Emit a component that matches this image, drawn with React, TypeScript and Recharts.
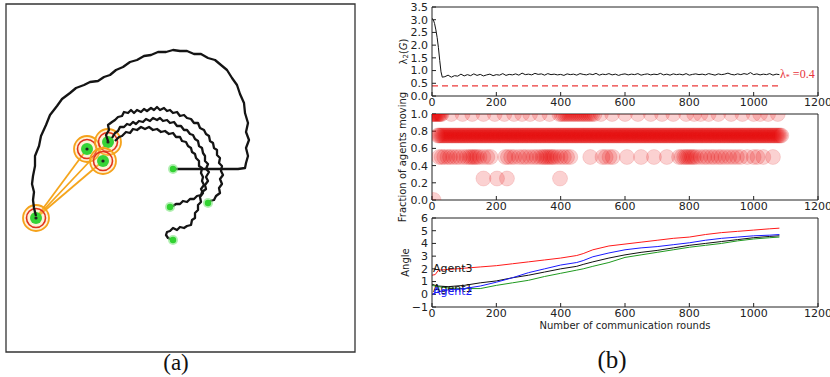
import React from "react";
import { ComposedChart, Scatter, Line, XAxis, YAxis, ReferenceArea, ReferenceDot } from "recharts";

// ---------- panel (a): trajectories, in picture coordinates of the box ----------
const OUTER_PATH = [
  [36, 216], [34, 208], [33, 200], [34, 192], [32, 184], [33, 176], [35, 166], [35, 156], [39, 146], [41, 136],
  [46, 125], [50, 115], [57, 106], [62, 99], [70, 93], [76, 88], [84, 85], [90, 82], [98, 81], [104, 77],
  [110, 75], [116, 70], [123, 67], [130, 62], [137, 60], [144, 56], [151, 55], [158, 52], [166, 52], [173, 50],
  [180, 51], [187, 51], [194, 54], [201, 54], [208, 58], [215, 60], [221, 65], [227, 70], [232, 78], [237, 85],
  [240, 94], [244, 103], [245, 113], [248, 123], [246, 132], [249, 140], [246, 148], [248, 156], [246, 163],
  [245, 168], [238, 169], [173, 169],
];
const PATH_A = [
  [108, 141], [106, 135], [109, 130], [108, 125], [112, 122], [115, 120], [118, 117], [122, 116], [124, 112],
  [128, 113], [131, 110], [134, 113], [137, 110], [141, 112], [144, 109], [147, 111], [151, 108], [154, 110],
  [157, 107], [160, 110], [164, 108], [167, 111], [170, 110], [173, 113], [177, 112], [180, 116], [184, 115],
  [187, 118], [191, 119], [194, 123], [198, 123], [200, 128], [204, 130], [206, 134], [209, 136], [210, 141],
  [213, 143], [214, 148], [217, 150], [217, 155], [220, 158], [219, 163], [222, 166], [221, 171], [223, 175],
  [220, 179], [222, 184], [219, 188], [220, 193], [216, 196], [214, 200], [210, 201], [208, 203],
];
const PATH_B = [
  [112, 138], [115, 133], [118, 131], [120, 127], [124, 127], [127, 124], [130, 125], [133, 122], [136, 124],
  [139, 121], [143, 122], [146, 119], [150, 121], [153, 118], [157, 120], [160, 118], [163, 121], [167, 120],
  [170, 123], [174, 122], [177, 126], [181, 126], [184, 130], [187, 130], [190, 134], [193, 135], [195, 139],
  [198, 141], [199, 146], [202, 148], [203, 153], [205, 156], [205, 161], [208, 164], [206, 169], [209, 172],
  [206, 177], [208, 181], [205, 185], [206, 189], [202, 192], [201, 195], [197, 196], [194, 199], [190, 199],
  [187, 202], [183, 201], [180, 204], [176, 204], [173, 206], [170, 207],
];
const PATH_C = [
  [115, 141], [119, 137], [122, 136], [126, 132], [130, 133], [133, 129], [137, 130], [141, 127], [145, 129],
  [149, 127], [153, 130], [157, 129], [161, 132], [165, 131], [169, 134], [173, 133], [176, 137], [180, 137],
  [182, 141], [186, 142], [188, 146], [191, 148], [192, 152], [195, 154], [196, 158], [199, 161], [199, 166],
  [202, 168], [201, 173], [203, 177], [202, 181], [204, 185], [201, 189], [203, 193], [200, 197], [201, 202],
  [198, 205], [198, 210], [195, 213], [195, 218], [192, 220], [191, 225], [187, 226], [184, 228], [180, 227],
  [177, 230], [173, 228], [170, 231], [167, 232], [166, 235], [168, 238], [173, 240],
];
const END_AGENTS = [[173, 169], [208, 203], [170, 207], [173, 240]];
const LEADERS = [[87, 149], [108, 142], [103, 161], [36, 218]];
const LONE = [36, 218];

// ---------- panel (b) ----------
const X_TICKS = [0, 200, 400, 600, 800, 1000, 1200];
const LAMBDA_TICKS = [0, 0.5, 1, 1.5, 2, 2.5, 3, 3.5];
const FRACTION_TICKS = [0, 0.2, 0.4, 0.6, 0.8, 1];
const ANGLE_TICKS = [-1, 0, 1, 2, 3, 4, 5, 6];

const LAMBDA_START_X = [0, 4, 8, 12, 16, 20, 24, 28, 32];
const LAMBDA_START = [3.05, 3.0, 2.85, 2.6, 2.3, 1.9, 1.4, 0.95, 0.74];
// every 10 rounds from round 40
const LAMBDA_TAIL = [
  0.76, 0.82, 0.74, 0.8, 0.78, 0.86, 0.79, 0.84, 0.8, 0.87,
  0.81, 0.85, 0.79, 0.83, 0.86, 0.8, 0.84, 0.82, 0.88, 0.81,
  0.85, 0.83, 0.87, 0.82, 0.9, 0.84, 0.86, 0.83, 0.89, 0.85,
  0.87, 0.82, 0.88, 0.84, 0.86, 0.83, 0.85, 0.81, 0.87, 0.84,
  0.86, 0.82, 0.88, 0.85, 0.83, 0.87, 0.84, 0.89, 0.82, 0.86,
  0.84, 0.88, 0.83, 0.86, 0.81, 0.85, 0.87, 0.83, 0.86, 0.84,
  0.88, 0.82, 0.85, 0.87, 0.83, 0.86, 0.84, 0.89, 0.83, 0.86,
  0.82, 0.87, 0.84, 0.86, 0.83, 0.88, 0.82, 0.85, 0.87, 0.84,
  0.86, 0.83, 0.88, 0.85, 0.82, 0.87, 0.84, 0.86, 0.9, 0.85,
  0.83, 0.87, 0.84, 0.88, 0.85, 0.92, 0.84, 0.87, 0.83, 0.86,
  0.84, 0.88, 0.82, 0.86, 0.84,
];
const LAMBDA_STAR = 0.4;
const LAMBDA_STAR_END = 1085;

const MOVING_100 = [0, 3, 6, 9, 12, 15, 18, 21, 24, 27, 30, 60, 95, 125, 160, 195, 225, 255, 280, 305, 335, 365,
  396, 402, 408, 414, 420, 426, 432, 438, 444, 450, 456, 462, 468, 474, 480, 486, 492, 498, 505, 525, 560, 600,
  640, 680, 715, 750, 790, 815, 835, 860, 890, 930, 965, 1000, 1020, 1045, 1075];
const MOVING_75 = [18, 22, 26, 30, 34, 38, 42, 46, 50, 54, 58, 62, 66, 70, 74, 78, 82, 86, 90, 94, 98, 102, 106,
  110, 114, 118, 122, 126, 130, 134, 138, 142, 146, 150, 154, 158, 162, 166, 170, 174, 178, 182, 186, 190, 194,
  198, 202, 206, 210, 214, 218, 222, 226, 230, 234, 238, 242, 246, 250, 254, 258, 262, 266, 270, 274, 278, 282,
  286, 290, 294, 298, 302, 306, 310, 314, 318, 322, 326, 330, 334, 338, 342, 346, 350, 354, 358, 362, 366, 370,
  374, 378, 382, 386, 390, 394, 398, 402, 406, 410, 414, 418, 422, 426, 430, 434, 438, 442, 446, 450, 454, 458,
  462, 466, 470, 474, 478, 482, 486, 490, 494, 498, 502, 506, 510, 514, 518, 522, 526, 530, 534, 538, 542, 546,
  550, 554, 558, 562, 566, 570, 574, 578, 582, 586, 590, 594, 598, 602, 606, 610, 614, 618, 622, 626, 630, 634,
  638, 642, 646, 650, 654, 658, 662, 666, 670, 674, 678, 682, 686, 690, 694, 698, 702, 706, 710, 714, 718, 722,
  726, 730, 734, 738, 742, 746, 750, 754, 758, 762, 766, 770, 774, 778, 782, 786, 790, 794, 798, 802, 806, 810,
  814, 818, 822, 826, 830, 834, 838, 842, 846, 850, 854, 858, 862, 866, 870, 874, 878, 882, 886, 890, 894, 898,
  902, 906, 910, 914, 918, 922, 926, 930, 934, 938, 942, 946, 950, 954, 958, 962, 966, 970, 974, 978, 982, 986,
  990, 994, 998, 1002, 1006, 1010, 1014, 1018, 1022, 1026, 1030, 1034, 1038, 1042, 1046, 1050, 1054, 1058, 1062,
  1066, 1070, 1074, 1078, 1082, 1086];
const MOVING_50 = [22, 30, 38, 48, 56, 66, 76, 86, 98, 108, 116, 122, 128, 134, 140, 148, 160, 172, 182, 228, 236,
  246, 256, 270, 282, 292, 304, 316, 326, 336, 344, 350, 356, 362, 368, 374, 380, 390, 400, 410, 420, 430, 492,
  530, 540, 552, 562, 606, 650, 690, 730, 768, 776, 784, 790, 796, 802, 808, 814, 822, 834, 846, 856, 868, 878,
  890, 900, 912, 924, 936, 948, 960, 980, 1000, 1012, 1030, 1060];
const MOVING_25 = [160, 202, 233, 398];
const MOVING_0 = [5];

const ANGLE_ROUNDS = [0, 10, 20, 50, 100, 150, 200, 250, 300, 350, 400, 450, 470, 500, 550, 600, 650, 700, 750, 800, 850, 900, 950, 1000, 1050, 1080];
const ANGLE_RED = [1.5, 1.55, 1.9, 1.95, 2.05, 2.15, 2.25, 2.4, 2.55, 2.7, 2.85, 3.05, 3.2, 3.5, 3.8, 3.95, 4.1, 4.25, 4.4, 4.5, 4.7, 4.85, 4.95, 5.05, 5.15, 5.2];
const ANGLE_BLUE = [0.0, 0.1, 0.2, 0.35, 0.45, 0.65, 0.95, 1.3, 1.7, 2.0, 2.3, 2.5, 2.65, 2.95, 3.25, 3.5, 3.65, 3.75, 3.9, 4.05, 4.25, 4.4, 4.5, 4.6, 4.65, 4.7];
const ANGLE_BLACK = [0.8, 0.7, 0.65, 0.6, 0.7, 0.9, 1.05, 1.3, 1.5, 1.75, 2.0, 2.2, 2.35, 2.55, 2.85, 3.1, 3.3, 3.45, 3.65, 3.85, 4.0, 4.15, 4.3, 4.45, 4.55, 4.6];
const ANGLE_GREEN = [0.7, 0.65, 0.6, 0.5, 0.45, 0.45, 0.7, 0.9, 1.1, 1.4, 1.65, 1.9, 2.0, 2.2, 2.5, 2.9, 3.1, 3.3, 3.5, 3.7, 3.85, 4.0, 4.2, 4.35, 4.45, 4.5];

const FONT = "'DejaVu Sans', sans-serif";
const INK = "#222";
const tickStyle = { fill: INK, fontSize: 11, fontFamily: FONT };

const pts = (arr: number[][]) => arr.map(([x, y]) => ({ x, y }));
const row = (xs: number[], y: number) => xs.map((x) => ({ x, y }));

const lambdaData = [
  ...LAMBDA_START_X.map((x, i) => ({ x, y: LAMBDA_START[i] })),
  ...LAMBDA_TAIL.map((y, i) => ({ x: 40 + i * 10, y })),
];
const starData = [{ x: 0, y: LAMBDA_STAR }, { x: LAMBDA_STAR_END, y: LAMBDA_STAR }];
const angleRows = ANGLE_ROUNDS.map((x, i) => ({
  x, red: ANGLE_RED[i], blue: ANGLE_BLUE[i], black: ANGLE_BLACK[i], green: ANGLE_GREEN[i],
}));

function YTitle({ viewBox, dx, txt }: any) {
  const cx = viewBox.x + dx;
  const cy = viewBox.y + viewBox.height / 2;
  return (
    <text x={cx} y={cy} transform={`rotate(-90 ${cx} ${cy})`} textAnchor="middle" dominantBaseline="central"
      fontSize={10} fontFamily={FONT} fill={INK}>{txt}</text>
  );
}

function XTitle({ viewBox, dy, txt }: any) {
  return (
    <text x={viewBox.x + viewBox.width / 2} y={viewBox.y + dy} textAnchor="middle" dominantBaseline="central"
      fontSize={10} fontFamily={FONT} fill={INK}>{txt}</text>
  );
}

function Tag({ viewBox, txt, color }: any) {
  return (
    <text x={viewBox.x + 1} y={viewBox.y} dominantBaseline="central" fontSize={11} fontFamily={FONT} fill={color}>{txt}</text>
  );
}

function StarTag({ viewBox }: any) {
  return (
    <text x={viewBox.x} y={viewBox.y} dominantBaseline="central" fontSize={12} fontFamily="'Liberation Serif', serif" fill="#e8343c">
      λ<tspan fontSize={8} dy={3}>*</tspan><tspan dy={-3}> =0.4</tspan>
    </text>
  );
}

const Bubble = (p: any) => (
  <circle cx={p.cx} cy={p.cy} r={7.5} fill="#e80000" fillOpacity={0.18} stroke="#d00000" strokeOpacity={0.12} strokeWidth={1} />
);
const NoDot = () => <g />;

const EndDot = (p: any) => (
  <g>
    <circle cx={p.cx} cy={p.cy} r={5} fill="#7ee57e" fillOpacity={0.6} />
    <circle cx={p.cx} cy={p.cy} r={3.2} fill="#31d231" />
  </g>
);

const Leader = (p: any) => (
  <g>
    <circle cx={p.cx} cy={p.cy} r={13} fill="#ffd27a" fillOpacity={0.3} stroke="#f5a21b" strokeWidth={1.8} />
    <circle cx={p.cx} cy={p.cy} r={9.5} fill="none" stroke="#e0321c" strokeWidth={1.6} />
    <circle cx={p.cx} cy={p.cy} r={6} fill="#37d337" />
    <circle cx={p.cx} cy={p.cy} r={1.6} fill="#222" />
  </g>
);

function frameAxes(yTicks: number[], yFmt: (v: number) => string, title: any, xTitle?: any, bottomH = 16) {
  const ax = { stroke: INK, strokeWidth: 1 };
  const yDom = [yTicks[0], yTicks[yTicks.length - 1]];
  return [
    <XAxis key="xb" type="number" dataKey="x" domain={[0, 1200]} ticks={X_TICKS} interval={0} allowDataOverflow
      tickSize={-4} tickMargin={6} tick={tickStyle} axisLine={ax} tickLine={ax} height={bottomH} label={xTitle} />,
    <XAxis key="xt" xAxisId="t" orientation="top" type="number" dataKey="x" domain={[0, 1200]} ticks={X_TICKS}
      interval={0} allowDataOverflow tickSize={-4} tick={false} axisLine={ax} tickLine={ax} height={2} />,
    <YAxis key="yl" type="number" dataKey="y" domain={yDom} ticks={yTicks} interval={0}
      allowDataOverflow tickSize={-4} tickMargin={8} tick={tickStyle} tickFormatter={yFmt} axisLine={ax}
      tickLine={ax} width={40} label={title} />,
    <YAxis key="yr" yAxisId="r" orientation="right" type="number" domain={yDom} ticks={yTicks} interval={0}
      allowDataOverflow tickSize={-4} tick={false} axisLine={ax} tickLine={ax} width={2} />,
  ];
}

export default function App() {
  return (
    <div style={{ position: "absolute", left: 0, top: 0, width: 830, height: 377, background: "#fff", overflow: "hidden" }}>
      <style>{`.recharts-surface { overflow: visible; }`}</style>
      {/* (a) */}
      <div style={{ position: "absolute", left: 0, top: 0 }}>
        <ComposedChart width={360} height={356} margin={{ top: 4, left: 6, right: 5, bottom: 4 }}>
          <XAxis type="number" dataKey="x" domain={[6, 355]} hide allowDataOverflow />
          <YAxis type="number" dataKey="y" domain={[4, 352]} reversed hide allowDataOverflow />
          <ReferenceArea x1={6} x2={355} y1={4} y2={352} fill="none" stroke="#333" strokeWidth={1.3} ifOverflow="visible" />
          {LEADERS.slice(0, 3).map((p, i) => (
            <Scatter key={"l" + i} data={pts([LONE, p])} shape={NoDot} isAnimationActive={false}
              line={{ stroke: "#f5a51c", strokeWidth: 1.8 }} />
          ))}
          <Scatter data={pts(LEADERS)} shape={Leader} isAnimationActive={false} />
          {[OUTER_PATH, PATH_A, PATH_B, PATH_C].map((p, i) => (
            <Scatter key={"p" + i} data={pts(p)} shape={NoDot} isAnimationActive={false}
              line={{ stroke: "#141414", strokeWidth: 2.3, strokeLinejoin: "round" }} />
          ))}
          <Scatter data={pts(END_AGENTS)} shape={EndDot} isAnimationActive={false} />
        </ComposedChart>
      </div>
      <div style={{ position: "absolute", left: 0, width: 352, top: 349, textAlign: "center", fontFamily: "'Liberation Serif', serif", fontSize: 23, lineHeight: "28px", color: "#111" }}>(a)</div>

      {/* (b) top: lambda_2 */}
      <div style={{ position: "absolute", left: 380, top: 0 }}>
        <ComposedChart width={450} height={112} margin={{ top: 5, left: 12, right: 10, bottom: 0 }}>
          {frameAxes(LAMBDA_TICKS, (v) => v.toFixed(1), <YTitle dx={11} txt={<>
            λ<tspan fontSize={7} dy={3}>2</tspan><tspan dy={-3}>(</tspan><tspan fontStyle="italic">G</tspan>)</>} />)}
          <Line data={starData} dataKey="y" stroke="#ec3a3a" strokeWidth={1.2} strokeDasharray="6 4" dot={false} isAnimationActive={false} />
          <Line data={lambdaData} dataKey="y" stroke="#111" strokeWidth={1} dot={false} isAnimationActive={false} />
          <ReferenceDot x={1082} y={0.85} r={0} fill="none" stroke="none" label={<StarTag />} ifOverflow="visible" />
        </ComposedChart>
      </div>

      {/* (b) middle: fraction moving */}
      <div style={{ position: "absolute", left: 380, top: 110 }}>
        <ComposedChart width={450} height={106} margin={{ top: 2, left: 12, right: 10, bottom: 0 }}>
          {frameAxes(FRACTION_TICKS, (v) => v.toFixed(1), <YTitle dx={10} txt="Fraction of agents moving" />)}
          <Scatter data={row(MOVING_0, 0)} shape={Bubble} isAnimationActive={false} />
          <Scatter data={row(MOVING_25, 0.25)} shape={Bubble} isAnimationActive={false} />
          <Scatter data={row(MOVING_50, 0.5)} shape={Bubble} isAnimationActive={false} />
          <Scatter data={row(MOVING_75, 0.75)} shape={Bubble} isAnimationActive={false} />
          <Scatter data={row(MOVING_100, 1)} shape={Bubble} isAnimationActive={false} />
        </ComposedChart>
      </div>

      {/* (b) bottom: angle */}
      <div style={{ position: "absolute", left: 380, top: 214 }}>
        <ComposedChart width={450} height={163} data={angleRows} margin={{ top: 2, left: 12, right: 10, bottom: 40 }}>
          {frameAxes(ANGLE_TICKS, (v) => (v < 0 ? "\u2212" + Math.abs(v) : String(v)),
            <YTitle dx={13} txt="Angle" />, <XTitle dy={18} txt="Number of communication rounds" />, 30)}
          <Line dataKey="red" stroke="#ff1a1a" strokeWidth={1} dot={false} isAnimationActive={false} />
          <Line dataKey="black" stroke="#111" strokeWidth={1} dot={false} isAnimationActive={false} />
          <Line dataKey="green" stroke="#1f9a1f" strokeWidth={1} dot={false} isAnimationActive={false} />
          <Line dataKey="blue" stroke="#1a1aff" strokeWidth={1} dot={false} isAnimationActive={false} />
          <ReferenceDot x={0} y={2.05} r={0} fill="none" stroke="none" label={<Tag txt="Agent3" color="#111" />} ifOverflow="visible" />
          <ReferenceDot x={0} y={0.45} r={0} fill="none" stroke="none" label={<Tag txt="Agent1" color="#111" />} ifOverflow="visible" />
          <ReferenceDot x={0} y={0.2} r={0} fill="none" stroke="none" label={<Tag txt="Agent2" color="#1a1aff" />} ifOverflow="visible" />
        </ComposedChart>
      </div>
      <div style={{ position: "absolute", left: 562, width: 100, top: 345, textAlign: "center", fontFamily: "'Liberation Serif', serif", fontSize: 25, lineHeight: "30px", color: "#111" }}>(b)</div>
    </div>
  );
}
